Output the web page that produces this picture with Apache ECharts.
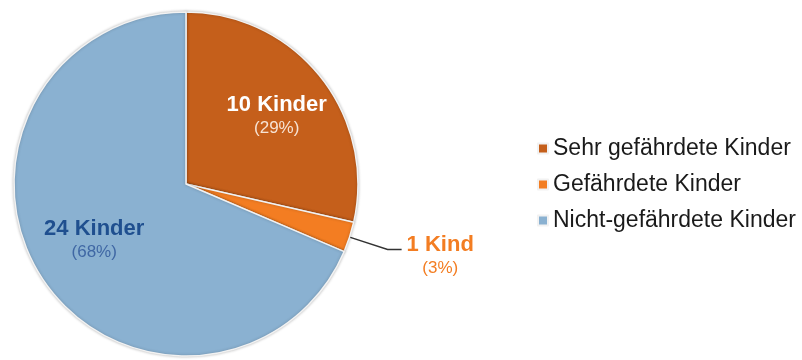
<!DOCTYPE html>
<html>
<head>
<meta charset="utf-8">
<script src="https://cdn.jsdelivr.net/npm/echarts@6/dist/echarts.min.js"></script>
<style>html,body{margin:0;padding:0;background:#fff}#c{width:802px;height:360px}</style>
</head>
<body>
<div id="c"></div>
<script>
const categories = ['Sehr gefährdete Kinder', 'Gefährdete Kinder', 'Nicht-gefährdete Kinder'];
const counts = [10, 1, 24];
const countLabels = ['10 Kinder', '1 Kind', '24 Kinder'];
const percentLabels = ['(29%)', '(3%)', '(68%)'];

const colors = ['#c55f1b', '#f37d22', '#8ab1d1'];
const labelMain = ['#ffffff', '#f37d22', '#1f4f8f'];
const labelSub = ['#f7e3d4', '#f37d22', '#3f67a4'];
const labelShift = [[0, 4], [0, 6], [5, -8]];

const chart = echarts.init(document.getElementById('c'), null, {renderer: 'canvas'});
const FONT = '"Liberation Sans", Arial, sans-serif';

function richFor(i) {
  return {
    a: {fontFamily: FONT, fontSize: 22, fontWeight: 'bold', color: labelMain[i], lineHeight: 25, align: 'center'},
    b: {fontFamily: FONT, fontSize: 17, color: labelSub[i], lineHeight: 21, align: 'center'}
  };
}

const mainData = categories.map((name, i) => ({
  name, value: counts[i],
  itemStyle: {color: colors[i]},
  label: i === 1 ? {
    show: true, position: 'outside',
    formatter: '{a|' + countLabels[i] + '}\n{b|' + percentLabels[i] + '}',
    rich: richFor(i), offset: labelShift[i]
  } : {show: false},
  labelLine: i === 1 ? {show: true, length: 40, length2: 14, smooth: false,
    lineStyle: {color: '#333', width: 1.5}} : {show: false}
}));

const overlayData = categories.map((name, i) => ({
  name, value: counts[i],
  itemStyle: {color: 'rgba(0,0,0,0)', borderWidth: 0},
  label: i === 1 ? {show: false} : {
    show: true, position: 'inside',
    formatter: '{a|' + countLabels[i] + '}\n{b|' + percentLabels[i] + '}',
    rich: richFor(i), offset: labelShift[i]
  }
}));

chart.setOption({
  animation: false,
  backgroundColor: '#ffffff',
  legend: {
    orient: 'vertical', left: 532, top: 132,
    itemWidth: 10, itemHeight: 10, itemGap: 13, icon: 'rect',
    data: categories,
    textStyle: {fontFamily: FONT, fontSize: 23, color: '#1a1a1a', lineHeight: 23}
  },
  series: [
    {
      type: 'pie', center: [186, 184], radius: [0, 172],
      startAngle: 90, clockwise: true, avoidLabelOverlap: false,
      itemStyle: {borderColor: '#f2f2f2', borderWidth: 1.5, shadowBlur: 3, shadowColor: 'rgba(0,0,0,0.25)'},
      emphasis: {disabled: true},
      data: mainData
    },
    {
      type: 'pie', center: [186, 184], radius: [100, 126],
      startAngle: 90, clockwise: true, silent: true,
      emphasis: {disabled: true}, labelLine: {show: false},
      data: overlayData
    }
  ]
});
</script>
</body>
</html>
